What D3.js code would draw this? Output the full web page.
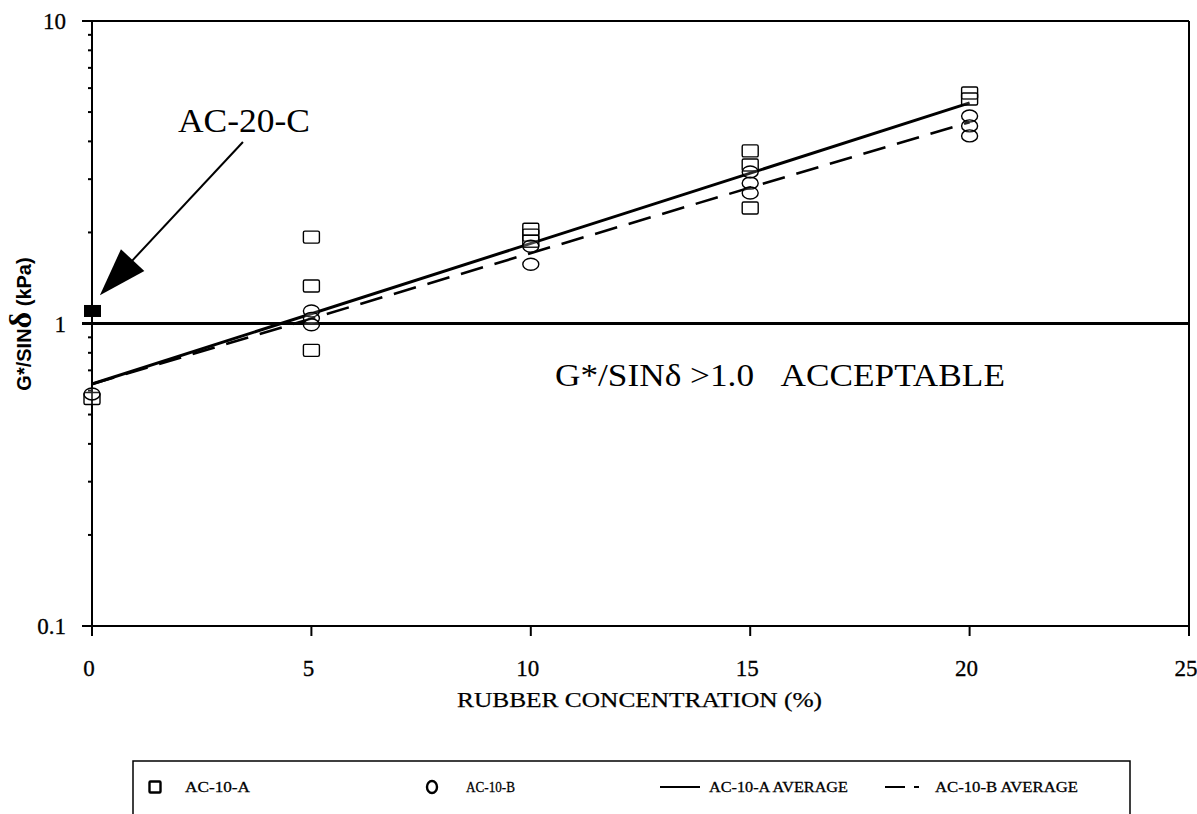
<!DOCTYPE html>
<html>
<head>
<meta charset="utf-8">
<script src="https://cdn.jsdelivr.net/npm/d3@7"></script>
<style>
  html, body { margin: 0; padding: 0; background: #fff; }
  svg { display: block; }
</style>
</head>
<body>
<svg id="chart" width="1197" height="814"></svg>
<script>
// Rubber concentration (%) on the x axis
const xTicks = [0, 5, 10, 15, 20, 25];
const yTicks = [0.1, 1, 10];
const yTickLabels = ["0.1", "1", "10"];

// G*/sin(delta) measurements, kPa
const ac10A = [
  { x: 0, y: 0.565 },
  { x: 5, y: 1.93 }, { x: 5, y: 1.33 }, { x: 5, y: 0.815 },
  { x: 10, y: 2.05 }, { x: 10, y: 1.96 }, { x: 10, y: 1.87 },
  { x: 15, y: 3.72 }, { x: 15, y: 3.34 }, { x: 15, y: 2.41 },
  { x: 20, y: 5.78 }, { x: 20, y: 5.52 }
];
const ac10B = [
  { x: 0, y: 0.585 },
  { x: 5, y: 1.10 }, { x: 5, y: 1.04 }, { x: 5, y: 0.99 },
  { x: 10, y: 1.80 }, { x: 10, y: 1.57 },
  { x: 15, y: 3.17 }, { x: 15, y: 2.91 }, { x: 15, y: 2.70 },
  { x: 20, y: 4.85 }, { x: 20, y: 4.50 }, { x: 20, y: 4.17 }
];
const ac20C = [{ x: 0, y: 1.10 }];

// Exponential trend lines (straight on the log axis)
const ac10AAverage = [{ x: 0, y: 0.631 }, { x: 20, y: 5.36 }];
const ac10BAverage = [{ x: 0, y: 0.631 }, { x: 20, y: 4.63 }];

// Specification limit
const specLimit = 1.0;

const legendItems = [
  { label: "AC-10-A", type: "square" },
  { label: "AC-10-B", type: "circle" },
  { label: "AC-10-A AVERAGE", type: "solid" },
  { label: "AC-10-B AVERAGE", type: "dashed" }
];

const W = 1197, H = 814;
const margin = { top: 21, right: 8, bottom: 188, left: 92 };
const serif = "'Liberation Serif', 'Times New Roman', serif";
const sans = "'Liberation Sans', Arial, sans-serif";

const svg = d3.select("#chart");
const x = d3.scaleLinear().domain([0, 25]).range([margin.left, W - margin.right]);
const y = d3.scaleLog().domain([0.1, 10]).range([H - margin.bottom, margin.top]);

// Frame: top and right edges
svg.append("line")
  .attr("x1", x(0)).attr("x2", x(25)).attr("y1", y(10)).attr("y2", y(10))
  .attr("stroke", "#000").attr("stroke-width", 2);
svg.append("line")
  .attr("x1", x(25)).attr("x2", x(25)).attr("y1", y(10)).attr("y2", y(0.1))
  .attr("stroke", "#000").attr("stroke-width", 2);

// Y axis with minor ticks
const minorTicks = [];
for (const base of [0.1, 1]) for (let k = 2; k <= 9; k++) minorTicks.push(base * k);
const gy = svg.append("g").attr("transform", `translate(${x(0)},0)`);
gy.append("line").attr("y1", y(0.1)).attr("y2", y(10)).attr("stroke", "#000").attr("stroke-width", 2);
gy.selectAll(".minor").data(minorTicks).join("line")
  .attr("x1", -4).attr("x2", 0).attr("y1", d => y(d)).attr("y2", d => y(d))
  .attr("stroke", "#000").attr("stroke-width", 2);
gy.selectAll(".major").data(yTicks).join("line")
  .attr("x1", -10).attr("x2", 0).attr("y1", d => y(d)).attr("y2", d => y(d))
  .attr("stroke", "#000").attr("stroke-width", 2);
gy.selectAll("text").data(yTicks).join("text")
  .attr("x", -26).attr("y", d => y(d)).attr("dy", "0.35em")
  .attr("text-anchor", "end")
  .attr("font-family", serif).attr("font-size", 23)
  .attr("stroke", "#000").attr("stroke-width", 0.3)
  .text((d, i) => yTickLabels[i]);

// X axis
const gx = svg.append("g").attr("transform", `translate(0,${y(0.1)})`);
gx.append("line").attr("x1", x(0)).attr("x2", x(25)).attr("stroke", "#000").attr("stroke-width", 2);
gx.selectAll(".tick").data(xTicks).join("line")
  .attr("x1", d => x(d)).attr("x2", d => x(d)).attr("y1", 0).attr("y2", 10)
  .attr("stroke", "#000").attr("stroke-width", 2);
gx.selectAll("text").data(xTicks).join("text")
  .attr("x", d => x(d) - 3).attr("y", 50)
  .attr("text-anchor", "middle")
  .attr("font-family", serif).attr("font-size", 23)
  .attr("stroke", "#000").attr("stroke-width", 0.3)
  .text(d => d);

// Axis titles
svg.append("text")
  .attr("x", 457).attr("y", 707)
  .attr("font-family", serif).attr("font-size", 21)
  .attr("textLength", 365).attr("lengthAdjust", "spacingAndGlyphs")
  .attr("stroke", "#000").attr("stroke-width", 0.25)
  .text("RUBBER CONCENTRATION (%)");

const yTitle = svg.append("text")
  .attr("transform", "translate(31,324) rotate(-90)")
  .attr("text-anchor", "middle")
  .attr("font-family", sans).attr("font-weight", "bold").attr("font-size", 20);
yTitle.append("tspan").text("G*/SIN");
yTitle.append("tspan").attr("font-family", serif).attr("font-size", 32).text("δ");
yTitle.append("tspan").text(" (kPa)");

// Specification line at 1.0 kPa
svg.append("line")
  .attr("x1", x(0) - 10).attr("x2", x(25))
  .attr("y1", y(specLimit)).attr("y2", y(specLimit))
  .attr("stroke", "#000").attr("stroke-width", 3);

// Trend lines
const line = d3.line().x(d => x(d.x)).y(d => y(d.y));
svg.append("path").datum(ac10AAverage).attr("d", line)
  .attr("fill", "none").attr("stroke", "#000").attr("stroke-width", 3);
svg.append("path").datum(ac10BAverage).attr("d", line)
  .attr("fill", "none").attr("stroke", "#000").attr("stroke-width", 2.6)
  .attr("stroke-dasharray", "23,12");

// Data markers
svg.selectAll(".sqA").data(ac10A).join("rect")
  .attr("x", d => x(d.x) - 8).attr("y", d => y(d.y) - 6)
  .attr("width", 16).attr("height", 12).attr("rx", 1.5)
  .attr("fill", "#fff").attr("fill-opacity", 0.15)
  .attr("stroke", "#000").attr("stroke-width", 1.4);
svg.selectAll(".ciB").data(ac10B).join("ellipse")
  .attr("cx", d => x(d.x)).attr("cy", d => y(d.y))
  .attr("rx", 8).attr("ry", 6)
  .attr("fill", "#fff").attr("fill-opacity", 0.15)
  .attr("stroke", "#000").attr("stroke-width", 1.4);
svg.selectAll(".sqC").data(ac20C).join("rect")
  .attr("x", d => x(d.x) - 8).attr("y", d => y(d.y) - 6)
  .attr("width", 17).attr("height", 12)
  .attr("fill", "#000");

// AC-20-C annotation with arrow
const arrowTail = { x: 3.44, y: 3.98 };
const arrowTip = { x: 0.18, y: 1.24 };
const tx = x(arrowTip.x), ty = y(arrowTip.y);
const sx = x(arrowTail.x), sy = y(arrowTail.y);
const len = Math.hypot(tx - sx, ty - sy);
const ux = (tx - sx) / len, uy = (ty - sy) / len;
const headLen = 48, headHalf = 16;
const bx = tx - ux * headLen, by = ty - uy * headLen;
svg.append("line")
  .attr("x1", sx).attr("y1", sy).attr("x2", bx + ux * 4).attr("y2", by + uy * 4)
  .attr("stroke", "#000").attr("stroke-width", 2);
svg.append("path")
  .attr("d", `M${tx},${ty} L${bx - uy * headHalf},${by + ux * headHalf} L${bx + uy * headHalf},${by - ux * headHalf} Z`)
  .attr("fill", "#000");
svg.append("text")
  .attr("x", x(1.96)).attr("y", y(4.3))
  .attr("font-family", serif).attr("font-size", 34)
  .attr("textLength", 132).attr("lengthAdjust", "spacingAndGlyphs")
  .text("AC-20-C");

// Acceptance note
svg.append("text")
  .attr("x", x(10.55)).attr("y", y(0.62))
  .attr("font-family", serif).attr("font-size", 32)
  .attr("textLength", 450).attr("lengthAdjust", "spacingAndGlyphs")
  .style("white-space", "pre")
  .text("G*/SINδ >1.0   ACCEPTABLE");

// Legend box (runs off the bottom edge)
const legend = svg.append("g");
legend.append("path")
  .attr("d", `M133,${H + 5} L133,761 L1130,761 L1130,${H + 5}`)
  .attr("fill", "none").attr("stroke", "#000").attr("stroke-width", 1.5);
const legendX = [155, 432, 680, 905];
const legendTextX = [185, 466, 709, 935];
const legendTextW = [65, 49, 139, 143];
const ly = 787;
legendItems.forEach((item, i) => {
  const cx = legendX[i];
  if (item.type === "square") {
    legend.append("rect").attr("x", cx - 5.5).attr("y", ly - 5.5).attr("width", 11).attr("height", 11)
      .attr("rx", 1).attr("fill", "none").attr("stroke", "#000").attr("stroke-width", 2.4);
  } else if (item.type === "circle") {
    legend.append("ellipse").attr("cx", cx).attr("cy", ly).attr("rx", 5).attr("ry", 6)
      .attr("fill", "none").attr("stroke", "#000").attr("stroke-width", 2.4);
  } else if (item.type === "solid") {
    legend.append("line").attr("x1", cx - 20).attr("x2", cx + 20).attr("y1", ly).attr("y2", ly)
      .attr("stroke", "#000").attr("stroke-width", 2);
  } else {
    legend.append("line").attr("x1", cx - 20).attr("x2", cx + 20).attr("y1", ly).attr("y2", ly)
      .attr("stroke", "#000").attr("stroke-width", 2).attr("stroke-dasharray", "20,9,5,20");
  }
  legend.append("text").attr("x", legendTextX[i]).attr("y", ly).attr("dy", "0.35em")
    .attr("font-family", serif).attr("font-size", 15)
    .attr("textLength", legendTextW[i]).attr("lengthAdjust", "spacingAndGlyphs")
    .attr("stroke", "#000").attr("stroke-width", 0.3)
    .text(item.label);
});
</script>
</body>
</html>
